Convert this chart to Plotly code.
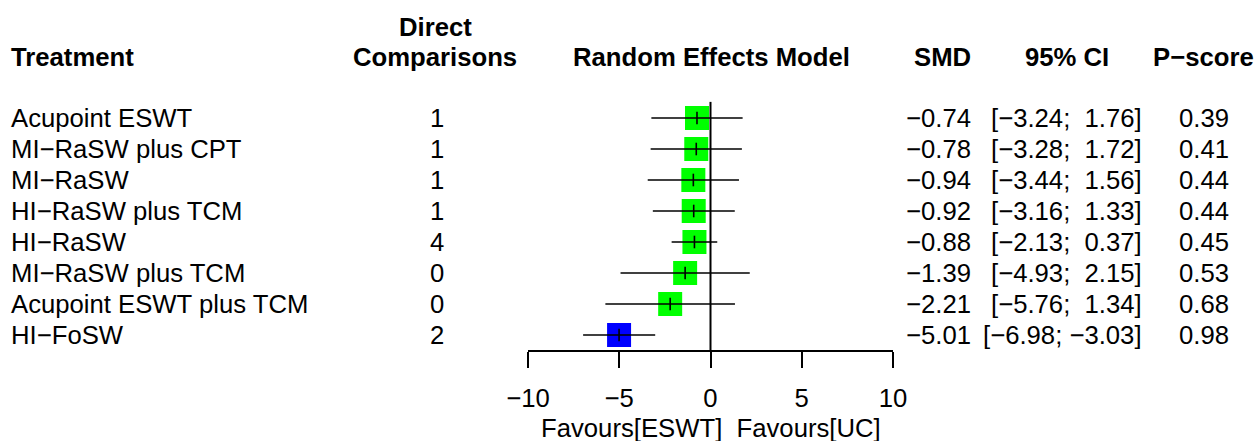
import plotly.graph_objects as go

treatments = ["Acupoint ESWT", "MI\u2212RaSW plus CPT", "MI\u2212RaSW", "HI\u2212RaSW plus TCM",
              "HI\u2212RaSW", "MI\u2212RaSW plus TCM", "Acupoint ESWT plus TCM", "HI\u2212FoSW"]
direct = [1, 1, 1, 1, 4, 0, 0, 2]
smd = [-0.74, -0.78, -0.94, -0.92, -0.88, -1.39, -2.21, -5.01]
lower = [-3.24, -3.28, -3.44, -3.16, -2.13, -4.93, -5.76, -6.98]
upper = [1.76, 1.72, 1.56, 1.33, 0.37, 2.15, 1.34, -3.03]
pscore = [0.39, 0.41, 0.44, 0.44, 0.45, 0.53, 0.68, 0.98]
colors = ["#00FF00"] * 7 + ["#0000FF"]
tick_vals = [-10, -5, 0, 5, 10]

W, H = 1255, 441
FONT = "Liberation Sans, Arial, sans-serif"
FS = 25.7
row_px0, row_step = 118, 31
axis_px = 350
PAD = 3  # annotation inner padding compensation

def fmt(v):
    s = f"{v:.2f}"
    return s.replace("-", "\u2212")

def fmt_ci(lo, hi):
    hs = fmt(hi)
    pad = "\u00a0" if hi < 0 else "\u00a0\u00a0"
    return "[" + fmt(lo) + ";" + pad + hs + "]"

rows = list(range(len(treatments)))
y_top = (0 - row_px0) / row_step
y_bot = (axis_px - row_px0) / row_step

fig = go.Figure()

# squares
fig.add_trace(go.Scatter(x=smd, y=rows, mode="markers",
                         marker=dict(symbol="square", size=24, color=colors, line=dict(width=0)),
                         hoverinfo="skip", showlegend=False))
# CI lines
for i in rows:
    fig.add_trace(go.Scatter(x=[lower[i], upper[i]], y=[i, i], mode="lines",
                             line=dict(color="black", width=1.6), hoverinfo="skip", showlegend=False))
# estimate ticks
fig.add_trace(go.Scatter(x=smd, y=rows, mode="markers",
                         marker=dict(symbol="line-ns", size=9, line=dict(color="black", width=1.6)),
                         hoverinfo="skip", showlegend=False))

# null line
fig.add_shape(type="line", xref="x", yref="y", x0=0, x1=0, y0=-0.52, y1=y_bot,
              line=dict(color="black", width=2))

ann = []
def px_y(p):
    return 1 - p / H
def px_x(p):
    return p / W

L = lambda p: px_x(p - PAD)
R = lambda p: px_x(p + PAD)

# headers
hdr = dict(font=dict(family=FONT, size=FS, color="black"), showarrow=False,
           xref="paper", yref="paper", yanchor="middle")
ann.append(dict(text="<b>Treatment</b>", x=L(12), y=px_y(57), xanchor="left", **hdr))
ann.append(dict(text="<b>Direct</b>", x=px_x(435), y=px_y(27), xanchor="center", **hdr))
ann.append(dict(text="<b>Comparisons</b>", x=px_x(435), y=px_y(57), xanchor="center", **hdr))
ann.append(dict(text="<b>Random Effects Model</b>", x=px_x(711), y=px_y(57), xanchor="center", **hdr))
ann.append(dict(text="<b>SMD</b>", x=R(970), y=px_y(57), xanchor="right", **hdr))
ann.append(dict(text="<b>95% CI</b>", x=px_x(1067), y=px_y(57), xanchor="center", **hdr))
ann.append(dict(text="<b>P\u2212score</b>", x=R(1253), y=px_y(57), xanchor="right", **hdr))

cell = dict(font=dict(family=FONT, size=FS, color="black"), showarrow=False,
            xref="paper", yref="y", yanchor="middle")
for i in rows:
    ann.append(dict(text=treatments[i], x=L(12), y=i, xanchor="left", **cell))
    ann.append(dict(text=str(direct[i]), x=px_x(437), y=i, xanchor="center", **cell))
    ann.append(dict(text=fmt(smd[i]), x=R(970), y=i, xanchor="right", **cell))
    ann.append(dict(text=fmt_ci(lower[i], upper[i]), x=R(1141), y=i, xanchor="right", **cell))
    ann.append(dict(text=f"{pscore[i]:.2f}", x=R(1228), y=i, xanchor="right", **cell))

ann.append(dict(text="Favours[ESWT]\u00a0\u00a0Favours[UC]", x=px_x(711), y=px_y(428),
                xanchor="center", **hdr))
fig.update_layout(annotations=ann)

fig.update_layout(
    width=W, height=H, margin=dict(l=0, r=0, t=0, b=0, autoexpand=False),
    plot_bgcolor="white", paper_bgcolor="white",
    font=dict(family=FONT, size=FS, color="black"),
    xaxis=dict(domain=[528 / W, 893 / W], range=[-10, 10], tickvals=tick_vals,
               ticktext=[fmt(v).replace(".00", "") for v in tick_vals],
               showline=True, linecolor="black", linewidth=1.5, ticks="outside",
               ticklen=16, tickwidth=1.5, tickcolor="black", showgrid=False, zeroline=False,
               ticklabelstandoff=8, automargin=False,
               tickfont=dict(family=FONT, size=FS, color="black"),
               fixedrange=True),
    yaxis=dict(domain=[1 - axis_px / H, 1], range=[y_bot, y_top], visible=False,
               showgrid=False, zeroline=False, fixedrange=True, automargin=False),
)

fig.write_html("out.html")
